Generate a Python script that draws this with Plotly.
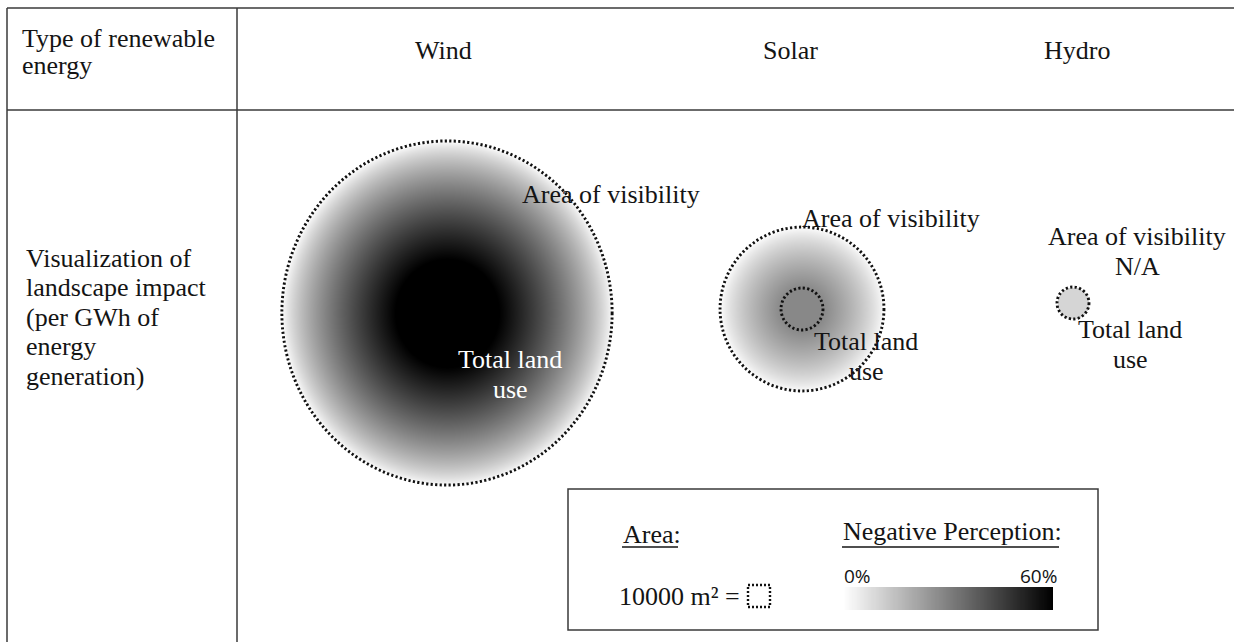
import numpy as np
import plotly.graph_objects as go

# ------------------------------------------------------------------ data
energy_types = ["Wind", "Solar", "Hydro"]
visibility_area_m2 = [1_770_000, 436_000, None]     # area of visibility per GWh
land_use_area_m2 = [175_000, 28_600, 16_600]         # total land use per GWh
peak_perception_pct = [60, 28, 10]                   # negative perception at the centre
perception_scale_pct = [0, 60]                       # legend colour bar range
legend_unit_m2 = 10000                               # legend square

header_label_lines = ["Type of renewable", "energy"]
row_label_lines = ["Visualization of", "landscape impact", "(per GWh of", "energy", "generation)"]
visibility_label_lines = [["Area of visibility"], ["Area of visibility"], ["Area of visibility", "N/A"]]
land_label_lines = ["Total land", "use"]
legend_area_title = "Area:"
legend_perception_title = "Negative Perception:"

# ------------------------------------------------------------------ layout / style
W, H = 1234, 642
PX_PER_M = 22 / np.sqrt(legend_unit_m2)   # legend square side (px) per metre
GAMMA = 0.75                               # shape of radial fade
SERIF = "Liberation Serif, Times New Roman, serif"
SANS = "Open Sans, Arial, sans-serif"
TXT = "#141414"
LINE = "#3a3a3a"

grid = dict(left=7, top=8, col_div=237, row_div=110)
col_header_x = [443, 790, 1077]
col_header_y = 50
header_x, header_y0, header_dy = 20, 38, 27
row_x, row_y0, row_dy = 24, 258, 29.5

circle_cx = [447, 802, 1073]
circle_cy = [313, 309, 303]
circle_aspect = [1.042, 1.0, 1.0]
outline_land = [False, True, True]

vis_label_pos = [(611, 194), (891, 218), (1137, 236)]
land_label_pos = [(510, 359), (866, 341), (1130, 329)]
land_label_color = ["#ffffff", TXT, TXT]
label_dy = 30

legend_box = dict(x0=568, y0=489, x1=1098, y1=630)
bar = dict(x0=843, x1=1053, y0=587, y1=610)
unit_sq = dict(x0=748, y0=585, x1=770, y1=607)
area_title_pos = (621, 534)
perc_title_pos = (841, 531)
underline_y = 547

colorscale = [[0, "#ffffff"], [1, "#000000"]]

fig = go.Figure()


def radius(area):
    return np.sqrt(area / np.pi) * PX_PER_M


# ------------------------------------------------------------------ gradient discs
shapes = []
dotted = dict(color="#111111", width=2.9, dash="2.2px,2.3px")
for i, name in enumerate(energy_types):
    cx, cy, asp = circle_cx[i], circle_cy[i], circle_aspect[i]
    r_core = radius(land_use_area_m2[i])
    r_out = radius(visibility_area_m2[i]) if visibility_area_m2[i] else r_core
    rx, ry = r_out, r_out * asp
    xs = np.arange(np.floor(cx - rx) - 1, np.ceil(cx + rx) + 2, 1.0)
    ys = np.arange(np.floor(cy - ry) - 1, np.ceil(cy + ry) + 2, 1.0)
    X, Y = np.meshgrid(xs, ys)
    d = np.sqrt(((X - cx) / rx) ** 2 + ((Y - cy) / ry) ** 2) * r_out
    if r_out > r_core:
        t = np.clip((d - r_core) / (r_out - r_core), 0, 1)
    else:
        t = np.zeros_like(d)
    z = peak_perception_pct[i] * (1 - t) ** GAMMA
    z = np.round(z, 2)
    zl = np.where(d > r_out, None, z).tolist()
    fig.add_trace(go.Heatmap(
        z=zl, x0=xs[0], dx=1, y0=ys[0], dy=1,
        colorscale=colorscale, zmin=perception_scale_pct[0], zmax=perception_scale_pct[1],
        showscale=False, hoverinfo="skip", name=name))
    if visibility_area_m2[i]:
        shapes.append(dict(type="circle", x0=cx - rx, x1=cx + rx,
                           y0=cy - ry, y1=cy + ry, line=dotted, layer="above"))
    if outline_land[i]:
        shapes.append(dict(type="circle", x0=cx - r_core, x1=cx + r_core,
                           y0=cy - r_core * asp, y1=cy + r_core * asp, line=dotted, layer="above"))

# ------------------------------------------------------------------ legend colour bar
NB = 200
fig.add_trace(go.Heatmap(
    z=[np.linspace(perception_scale_pct[0], perception_scale_pct[1], NB).tolist()],
    x0=bar["x0"] + (bar["x1"] - bar["x0"]) / NB / 2, dx=(bar["x1"] - bar["x0"]) / NB,
    y0=(bar["y0"] + bar["y1"]) / 2, dy=bar["y1"] - bar["y0"],
    colorscale=colorscale, zmin=perception_scale_pct[0], zmax=perception_scale_pct[1],
    showscale=False, hoverinfo="skip"))

# ------------------------------------------------------------------ table grid
g = grid
tl = dict(color=LINE, width=1.5)
ul = dict(color=TXT, width=1.3)
shapes += [
    dict(type="line", x0=g["left"], x1=W, y0=g["top"], y1=g["top"], line=tl),
    dict(type="line", x0=g["left"], x1=W, y0=g["row_div"], y1=g["row_div"], line=tl),
    dict(type="line", x0=g["left"], x1=g["left"], y0=g["top"], y1=H, line=tl),
    dict(type="line", x0=g["col_div"], x1=g["col_div"], y0=g["top"], y1=H, line=tl),
    dict(type="rect", **legend_box, line=dict(color=LINE, width=1.5)),
    dict(type="rect", **unit_sq, line=dict(color="#111111", width=2.4, dash="2px,2px")),
    # underlines of legend titles
    dict(type="line", x0=area_title_pos[0] + 1, x1=area_title_pos[0] + 57,
         y0=underline_y, y1=underline_y, line=ul),
    dict(type="line", x0=perc_title_pos[0] + 1, x1=perc_title_pos[0] + 218,
         y0=underline_y, y1=underline_y, line=ul),
]
for s in shapes:
    s.setdefault("xref", "x")
    s.setdefault("yref", "y")

# ------------------------------------------------------------------ text
ann = []


def text(x, y, s, size=26, anchor="center", color=TXT, family=SERIF):
    ann.append(dict(x=x, y=y, xref="x", yref="y", text=s, showarrow=False,
                    xanchor=anchor, yanchor="middle",
                    font=dict(family=family, size=size, color=color)))


for k, line in enumerate(header_label_lines):
    text(header_x, header_y0 + k * header_dy, line, anchor="left")
for k, line in enumerate(row_label_lines):
    text(row_x, row_y0 + k * row_dy, line, anchor="left")
for i, name in enumerate(energy_types):
    text(col_header_x[i], col_header_y, name)
    vx, vy = vis_label_pos[i]
    for k, line in enumerate(visibility_label_lines[i]):
        text(vx, vy + k * label_dy, line)
    lx, ly = land_label_pos[i]
    for k, line in enumerate(land_label_lines):
        text(lx, ly + k * label_dy, line, color=land_label_color[i])

text(area_title_pos[0], area_title_pos[1], legend_area_title, anchor="left")
text(perc_title_pos[0], perc_title_pos[1], legend_perception_title, anchor="left")
text(617, 596, f"{legend_unit_m2} m\u00b2 =", anchor="left")
text(bar["x0"] - 1, 576, f"{perception_scale_pct[0]}%", size=19, anchor="left", family=SANS)
text(bar["x1"] + 6, 576, f"{perception_scale_pct[1]}%", size=19, anchor="right", family=SANS)

fig.update_layout(
    width=W, height=H, margin=dict(l=0, r=0, t=0, b=0),
    paper_bgcolor="white", plot_bgcolor="white",
    xaxis=dict(range=[0, W], visible=False, fixedrange=True),
    yaxis=dict(range=[H, 0], visible=False, fixedrange=True),
    shapes=shapes, annotations=ann, showlegend=False,
)

fig.write_html("out.html", config={"displayModeBar": False, "staticPlot": True},
               post_script="document.body.style.margin='0';document.body.style.overflow='hidden';")
